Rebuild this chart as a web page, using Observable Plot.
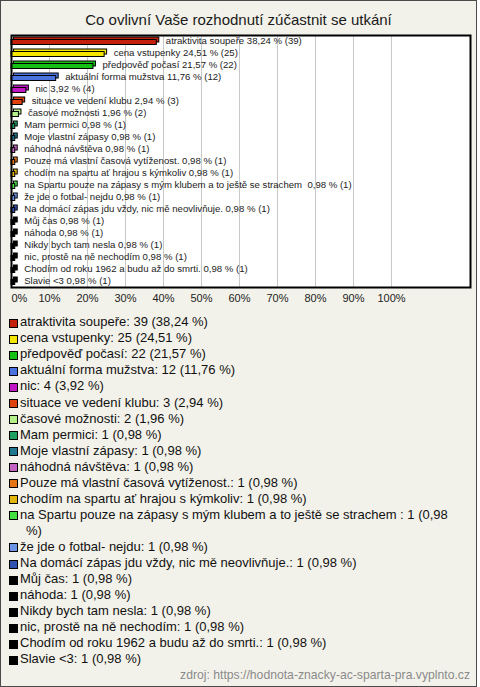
<!DOCTYPE html>
<html>
<head>
<meta charset="utf-8">
<script src="https://cdn.jsdelivr.net/npm/d3@7"></script>
<script src="https://cdn.jsdelivr.net/npm/@observablehq/plot@0.6"></script>
<style>
  html, body { margin: 0; padding: 0; background: #ffffff; }
  body { width: 480px; height: 687px; position: relative; overflow: hidden; font-family: "Liberation Sans", Arial, sans-serif; }
  #frame { position: absolute; left: 0; top: 0; width: 475px; height: 685px; border: 1px solid #4a4a4a; background: #f3f2ea; }
  #title { position: absolute; left: 0; top: 11px; width: 477px; text-align: center; font-size: 15px; line-height: 18px; color: #1a1a1a; }
  #chart { position: absolute; left: 0; top: 0; }
  #legend { position: absolute; left: 9px; top: 314.3px; width: 465px; font-size: 13px; line-height: 16.05px; color: #111; }
  .item { display: flex; align-items: flex-start; }
  .sw { flex: 0 0 auto; width: 7px; height: 7px; border: 1px solid #000; margin-top: 4.5px; margin-right: 2px; }
  .lab { display: block; flex: 0 1 auto; width: 432px; padding-left: 6px; text-indent: -6px; color: #111; }
  #source { position: absolute; right: 10px; top: 668px; font-size: 12.2px; line-height: 14px; color: #8a8a8a; }
</style>
</head>
<body>
<div id="frame"></div>
<div id="title">Co ovlivní Vaše rozhodnutí zúčastnit se utkání</div>
<div id="chart"></div>
<div id="legend"></div>
<div id="source">zdroj: https://hodnota-znacky-ac-sparta-pra.vyplnto.cz</div>
<script>
const names = [
  "atraktivita soupeře",
  "cena vstupenky",
  "předpověď počasí",
  "aktuální forma mužstva",
  "nic",
  "situace ve vedení klubu",
  "časové možnosti",
  "Mam permici",
  "Moje vlastní zápasy",
  "náhodná návštěva",
  "Pouze má vlastní časová vytíženost.",
  "chodím na spartu ať hrajou s kýmkoliv",
  "na Spartu pouze na zápasy s mým klubem a to ještě se strachem ",
  "že jde o fotbal- nejdu",
  "Na domácí zápas jdu vždy, nic mě neovlivňuje.",
  "Můj čas",
  "náhoda",
  "Nikdy bych tam nesla",
  "nic, prostě na ně nechodím",
  "Chodím od roku 1962 a budu až do smrti.",
  "Slavie <3"
];
const counts = [39, 25, 22, 12, 4, 3, 2, 1, 1, 1, 1, 1, 1, 1, 1, 1, 1, 1, 1, 1, 1];
const percents = [38.24, 24.51, 21.57, 11.76, 3.92, 2.94, 1.96, 0.98, 0.98, 0.98, 0.98, 0.98, 0.98, 0.98, 0.98, 0.98, 0.98, 0.98, 0.98, 0.98, 0.98];
const colors = [
  "#c4200c", "#f2e600", "#13c013", "#4b73e0", "#c016c4", "#e0420e", "#b4f08a",
  "#1f9e62", "#1f7890", "#c262c2", "#e47514", "#e0b40c", "#44e044", "#6c94e6",
  "#2f52b0", "#000000", "#000000", "#000000", "#000000", "#000000", "#000000"
];
const xTicks = [0, 10, 20, 30, 40, 50, 60, 70, 80, 90, 100];

const fmt = v => v.toFixed(2).replace(".", ",");
const data = names.map((n, i) => ({name: n, count: counts[i], pct: percents[i], color: colors[i]}));

const chart = Plot.plot({
  width: 480,
  height: 310,
  marginLeft: 11,
  marginRight: 10,
  marginTop: 35,
  marginBottom: 23,
  style: {background: "transparent", fontFamily: "'Liberation Sans', Arial, sans-serif", overflow: "visible"},
  x: {domain: [0, 120.8], axis: null},
  y: {domain: names, padding: 0, axis: null},
  color: {type: "identity"},
  marks: [
    Plot.frame({fill: "white", stroke: "none"}),
    Plot.ruleX(xTicks.slice(1), {stroke: "#c8c8c8", strokeWidth: 1}),
    Plot.barX(data, {x1: d => 0, x2: "pct", y: "name", fill: "color", stroke: "#000", strokeWidth: 1, insetTop: 4.5, insetBottom: 2.5, dx: 2.5, dy: -2.5}),
    Plot.barX(data, {x1: d => 0, x2: "pct", y: "name", fill: "color", stroke: "#000", strokeWidth: 1, insetTop: 4.5, insetBottom: 2.5}),
    Plot.text(data, {x: "pct", y: "name", text: d => `${d.name} ${fmt(d.pct)} % (${d.count})`, dx: 9, dy: -1, textAnchor: "start", fontSize: 9.6, fill: "#222"}),
    Plot.frame({stroke: "#000", strokeWidth: 2}),
    Plot.text(xTicks.slice(0, 1), {x: d => d, text: d => d + "%", frameAnchor: "bottom", lineAnchor: "top", dy: 7, textAnchor: "start", fontSize: 11, fill: "#222"}),
    Plot.text(xTicks.slice(1), {x: d => d, text: d => d + "%", frameAnchor: "bottom", lineAnchor: "top", dy: 7, textAnchor: "middle", fontSize: 11, fill: "#222"})
  ]
});
document.getElementById("chart").appendChild(chart);

const legend = document.getElementById("legend");
data.forEach(d => {
  const item = document.createElement("div");
  item.className = "item";
  const sw = document.createElement("span");
  sw.className = "sw";
  sw.style.background = d.color;
  const lab = document.createElement("div");
  lab.className = "lab";
  lab.textContent = `${d.name}: ${d.count} (${fmt(d.pct)} %)`;
  item.appendChild(sw);
  item.appendChild(lab);
  legend.appendChild(item);
});
</script>
</body>
</html>
